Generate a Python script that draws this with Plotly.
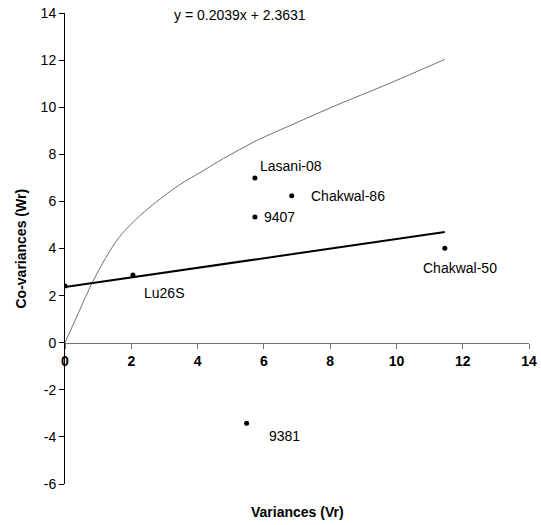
import plotly.graph_objects as go

# Genotype points (Vr, Wr)
genotypes = ["", "Lu26S", "9381", "9407", "Lasani-08", "Chakwal-86", "Chakwal-50"]
vr = [0.0, 2.05, 5.48, 5.73, 5.73, 6.84, 11.46]
wr = [2.41, 2.87, -3.42, 5.34, 6.99, 6.24, 4.01]

# label offsets (pixels) relative to each point
label_dx = [0, 9, 20, 7, 3, 17, -24]
label_dy = [0, -18, -13, 0, 12, 0, -20]

# limiting parabola
curve_vr = [0.0, 0.41, 0.81, 1.22, 1.62, 2.1, 2.73, 3.43, 4.19, 4.78, 5.78, 6.84, 8.3, 9.6, 11.46]
curve_wr = [0.0, 1.28, 2.52, 3.58, 4.45, 5.18, 5.95, 6.68, 7.32, 7.82, 8.58, 9.25, 10.15, 10.9, 12.03]

# regression line endpoints
reg_vr = [0.0, 11.46]
reg_wr = [2.3631, 4.70]

equation = "y = 0.2039x + 2.3631"
x_ticks = [0, 2, 4, 6, 8, 10, 12, 14]
y_ticks = [-6, -4, -2, 0, 2, 4, 6, 8, 10, 12, 14]
y_tick_text = ["-6", "-4", "-2", "0", "2", "4", "6", "8", "10", "12", "14"]

FONT = "Arial, Liberation Sans, sans-serif"

fig = go.Figure()
fig.add_trace(go.Scatter(x=curve_vr, y=curve_wr, mode="lines",
                         line=dict(color="#707070", width=1, shape="spline", smoothing=1),
                         hoverinfo="skip", showlegend=False))
fig.add_trace(go.Scatter(x=reg_vr, y=reg_wr, mode="lines",
                         line=dict(color="black", width=2),
                         showlegend=False))
fig.add_trace(go.Scatter(x=vr, y=wr, mode="markers",
                         marker=dict(color="black", size=5),
                         text=genotypes, showlegend=False))

for g, x, y, dx, dy in zip(genotypes, vr, wr, label_dx, label_dy):
    if not g:
        continue
    fig.add_annotation(x=x, y=y, text=g, showarrow=False, xanchor="left",
                       yanchor="middle", xshift=dx, yshift=dy,
                       font=dict(family=FONT, size=14, color="black"))

fig.add_annotation(x=0.2306, y=0.9958, xref="paper", yref="paper", text=equation,
                   showarrow=False, xanchor="left", yanchor="middle",
                   font=dict(family=FONT, size=14, color="black"))
fig.add_annotation(x=0, y=0.5, xref="paper", yref="paper", text="<b>Co-variances (Wr)</b>",
                   showarrow=False, textangle=-90, xanchor="center", yanchor="middle",
                   xshift=-45, font=dict(family=FONT, size=14, color="black"))
fig.add_annotation(x=0.5, y=0, xref="paper", yref="paper", text="<b>Variances (Vr)</b>",
                   showarrow=False, xanchor="center", yanchor="middle",
                   yshift=-28, font=dict(family=FONT, size=14, color="black"))

fig.update_layout(
    width=541, height=525,
    margin=dict(l=65, r=12, t=13, b=41, autoexpand=False),
    plot_bgcolor="white", paper_bgcolor="white",
    font=dict(family=FONT, size=14, color="black"),
    xaxis=dict(range=[0, 14], tickvals=x_ticks, ticks="outside", ticklen=5,
               tickcolor="#707070", showline=True, linecolor="#707070", linewidth=1,
               showgrid=False, zeroline=False, anchor="free", position=0.3,
               automargin=False,
               tickfont=dict(family=FONT, size=14, weight="bold")),
    yaxis=dict(range=[-6, 14], tickvals=y_ticks, ticktext=y_tick_text,
               ticks="outside", ticklen=5,
               tickcolor="black", showline=True, linecolor="black", linewidth=1,
               showgrid=False, zeroline=False, automargin=False,
               tickfont=dict(family=FONT, size=14)),
)

fig.write_html("out.html", config={"displayModeBar": False},
               post_script="document.body.style.margin='0';document.body.style.padding='0';")
